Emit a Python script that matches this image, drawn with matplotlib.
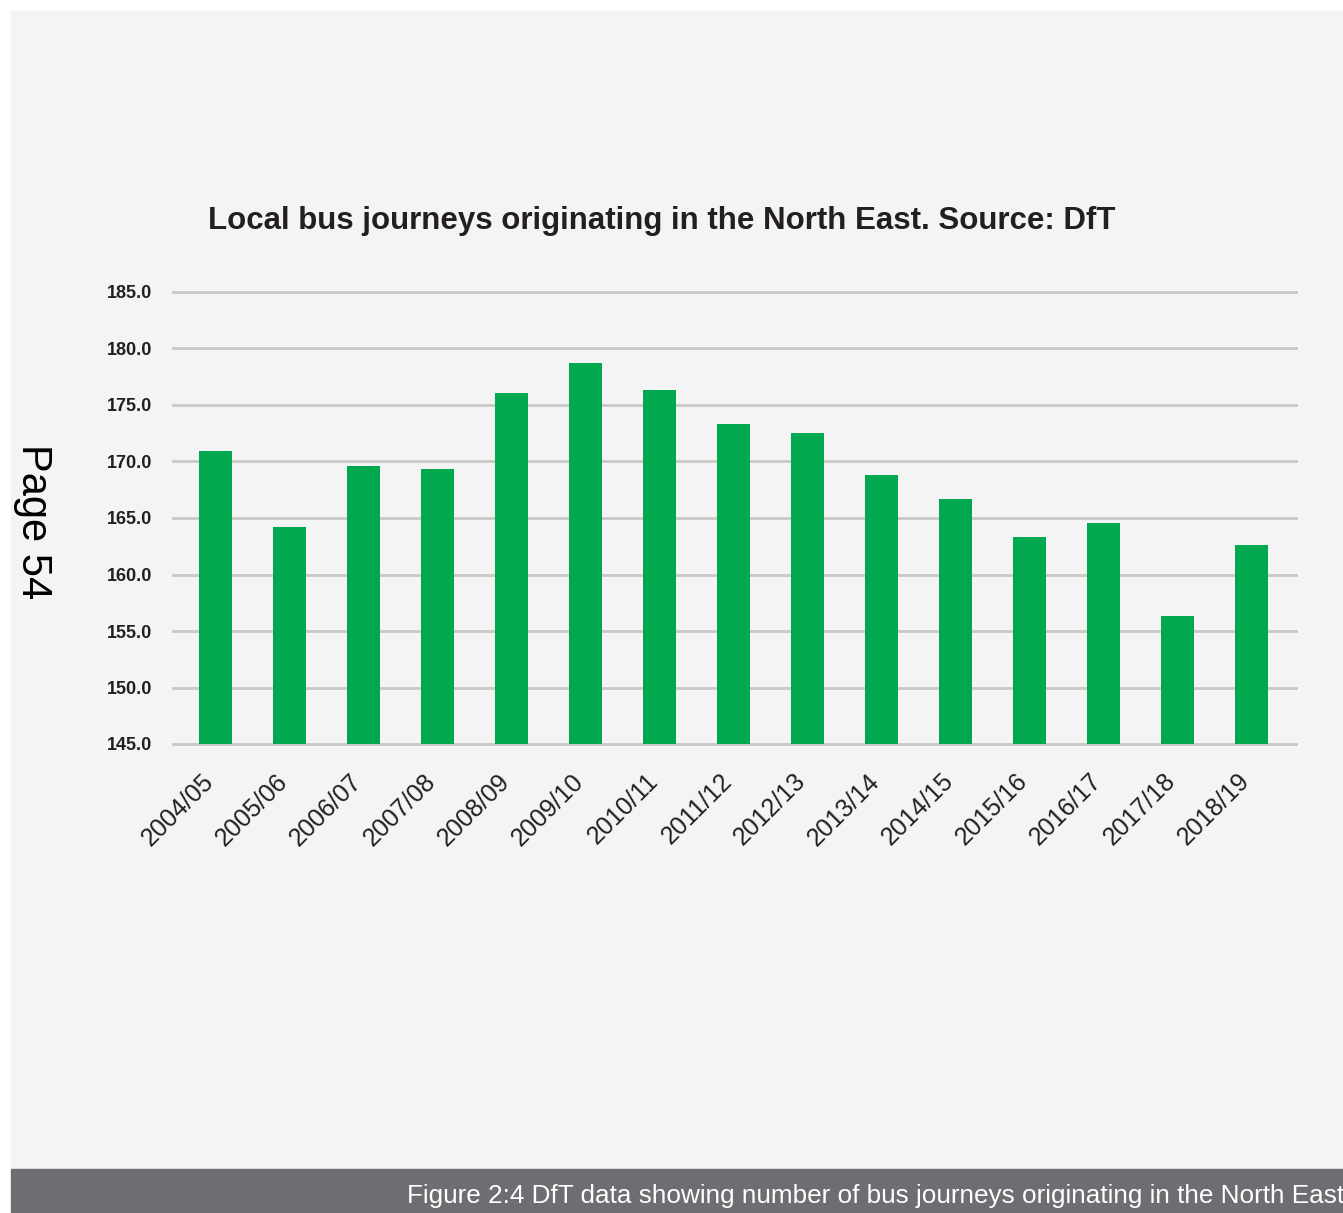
import numpy as np
import matplotlib.pyplot as plt
from matplotlib.patches import Rectangle
from matplotlib.transforms import ScaledTranslation

plt.rcParams['font.family'] = ['Liberation Sans', 'DejaVu Sans']

# Local bus journeys (millions) by financial year
years = ['2004/05', '2005/06', '2006/07', '2007/08', '2008/09', '2009/10',
         '2010/11', '2011/12', '2012/13', '2013/14', '2014/15', '2015/16',
         '2016/17', '2017/18', '2018/19']
journeys = [170.9, 164.2, 169.6, 169.3, 176.1, 178.7, 176.3, 173.3,
            172.5, 168.8, 166.7, 163.3, 164.6, 156.3, 162.6]
yticks = [145.0, 150.0, 155.0, 160.0, 165.0, 170.0, 175.0, 180.0, 185.0]

W, H = 1343, 1213
fig = plt.figure(figsize=(W / 100, H / 100), dpi=100, facecolor='white')

# page background and caption strip
fig.patches.append(Rectangle((11 / W, 44 / H), 1 - 11 / W, 1 - 55 / H,
                             transform=fig.transFigure, color='#f4f4f4', zorder=-2))
fig.patches.append(Rectangle((11 / W, 0), 1 - 11 / W, 44 / H,
                             transform=fig.transFigure, color='#6d6e71', zorder=-2))

ax = fig.add_axes([173 / W, 469 / H, 1123 / W, 452 / H])
ax.set_facecolor('none')

x = np.arange(len(years))
ax.bar(x, [v - 145 for v in journeys], bottom=145, width=0.446,
       color='#00a84f', zorder=3)

# gridlines run a little past the outer categories
ax.set_xlim(-0.575, len(years) - 0.4)
ax.set_ylim(145, 185)
ax.set_yticks(yticks)
ax.set_yticklabels(['%.1f' % t for t in yticks], fontsize=13,
                   fontweight='bold', color='#231f20')
for t in yticks:
    ax.axhline(t, color='#c8c8c4', lw=2, zorder=1, clip_on=False)

# category labels, slanted, right end under each bar centre
ax.set_xticks([])
shift = ScaledTranslation(3 / 100, -25 / 100, fig.dpi_scale_trans)
for i, yr in enumerate(years):
    ax.text(x[i], 0, yr, transform=ax.get_xaxis_transform() + shift,
            rotation=45, ha='right', va='top', fontsize=18, color='#231f20')

ax.tick_params(axis='both', length=0)
ax.tick_params(axis='y', pad=15)
for s in ax.spines.values():
    s.set_visible(False)

fig.text(662 / W, 1 - 221 / H,
         'Local bus journeys originating in the North East. Source: DfT',
         ha='center', va='center', fontsize=22.5, fontweight='bold',
         color='#231f20')

fig.text(33 / W, 1 - 522 / H, 'Page 54', rotation=-90, ha='center',
         va='center', fontsize=30, color='black')

fig.text(407 / W, 17 / H,
         'Figure 2:4 DfT data showing number of bus journeys originating in the North East',
         ha='left', va='center', fontsize=18.8, color='white')

fig.savefig('out.png', dpi=100, facecolor=fig.get_facecolor())
